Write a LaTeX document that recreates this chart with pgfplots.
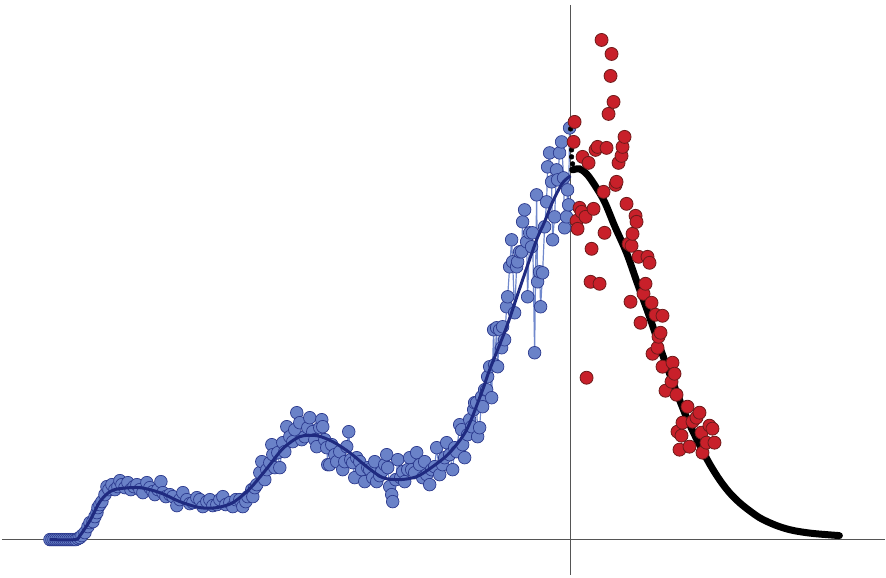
\documentclass[border=0pt]{standalone}
\usepackage{pgfplots}
\pgfplotsset{compat=1.18}
\definecolor{bluefill}{HTML}{6A82C8}
\definecolor{blueedge}{HTML}{2C3A8E}
\definecolor{blueline}{HTML}{7088CC}
\definecolor{bluecurve}{HTML}{1F2A80}
\definecolor{redfill}{HTML}{C8202A}
\definecolor{rededge}{HTML}{6E1A1A}
\definecolor{axisgray}{HTML}{555555}
\begin{document}
\begin{tikzpicture}
\begin{axis}[
  scale only axis, width=886pt, height=578pt,
  xmin=0, xmax=886, ymin=-38, ymax=540,
  hide axis, clip=false, clip marker paths=true,
]
\path (axis cs:0,-38) rectangle (axis cs:886,540);
% axes lines
\addplot[axisgray, line width=1.3pt, forget plot] coordinates {(2,0) (886,0)};
\addplot[axisgray, line width=1.3pt, forget plot] coordinates {(571,535) (571,-35)};
% blue observations
\addplot[blueline, line width=1.2pt, mark=*, mark size=6.3pt,
  mark options={fill=bluefill, draw=blueedge, line width=0.7pt, solid}] coordinates {
(50,0)(52,0)(54,0)(56,0)(58,0)(60,0)(62,0)(64,0)(66,0)(68,0)(70,0)(72,0)(74,0)(76,0)
(78,1)(80,2)(82,4)(85,7)(88,13)(90,17)(93,18)(95,23)(97,27)(98,32)(100,35)(102,38)
(105,45)(107,53)(109,50)(112,55)(115,50)(118,53)(120,59)(122,55)(125,52)(128,57)
(131,50)(134,53)(137,55)(140,50)(143,47)(147,57)(150,52)(153,48)(155,45)(158,50)
(161,58)(163,47)(166,43)(170,45)(173,43)(177,34)(180,40)(183,47)(187,40)(190,36)
(193,37)(197,42)(200,40)(203,33)(207,38)(210,40)(213,34)(217,35)(220,40)(223,43)
(226,35)(230,37)(233,33)(236,40)(240,40)(243,33)(246,38)(248,43)(252,50)(253,43)
(255,52)(257,55)(260,67)(262,78)(265,60)(267,70)(270,77)(272,95)(273,85)(275,72)
(278,87)(280,72)(283,97)(285,88)(287,113)(290,103)(293,98)(295,110)(297,127)(300,117)
(302,100)(305,103)(308,112)(310,122)(313,108)(315,100)(317,93)(320,112)(322,120)
(323,113)(325,100)(327,92)(328,75)(330,75)(332,95)(335,85)(337,78)(340,88)(343,70)
(345,78)(347,93)(349,108)(351,80)(353,77)(355,62)(357,82)(360,78)(362,70)(365,58)
(368,72)(370,70)(373,62)(375,78)(377,58)(380,64)(382,68)(385,75)(387,85)(388,72)
(390,53)(392,45)(393,38)(396,60)(398,80)(401,62)(403,68)(405,58)(408,70)(410,82)
(412,70)(415,67)(417,87)(420,75)(423,62)(425,78)(427,65)(430,55)(432,70)(435,73)
(437,92)(440,65)(443,75)(445,82)(447,97)(450,85)(453,70)(455,92)(457,88)(460,115)
(462,110)(463,95)(465,82)(468,105)(470,120)(472,113)(474,130)(475,137)(477,137)
(478,103)(480,112)(482,143)(483,133)(485,150)(487,150)(488,163)(490,173)(492,142)
(494,210)(495,175)(497,212)(498,173)(500,210)(502,192)(503,213)(505,200)(507,233)
(508,243)(510,273)(512,300)(513,278)(515,227)(517,273)(518,278)(520,288)(522,288)
(523,318)(525,330)(527,298)(528,243)(530,307)(532,293)(533,307)(535,187)(537,345)
(538,258)(540,268)(541,233)(543,267)(545,313)(547,338)(548,373)(550,387)(552,358)
(553,300)(555,323)(557,370)(558,360)(560,387)(562,398)(564,362)(565,312)(567,323)
(568,350)(569,335)(570,412)
};
% blue smooth fit
\addplot[bluecurve, line width=3pt, smooth, tension=0.5] coordinates {
(50,0)(75,0)(80,4)(90,19)(100,38)(110,48)(120,51)(140,52)(160,47)(180,38)(200,32)
(217,32)(233,37)(250,51)(267,71)(283,91)(300,103)(317,104)(333,98)(350,87)(367,73)
(383,62)(400,60)(417,63)(433,73)(450,87)(467,110)(483,150)(490,170)(507,213)(523,260)
(537,300)(545,318)(553,338)(563,357)(571,364)
};
% black forecast
\addplot[black, only marks, mark=*, mark size=2.4pt] coordinates {
(571,411)(572,390)(572,383)(573,376)
};
\addplot[black, line width=7pt, smooth, line cap=round, tension=0.55] coordinates {
(573,370)(580,371)(587,366)(595,355)(605,338)(615,314)(627,287)(638,256)
(650,223)(662,188)(675,153)(688,120)(700,95)(710,76)(720,60)(730,47)(740,37)
(750,29)(760,22)(770,17)(780,13)(790,10)(800,8)(815,6)(840,4)
};
% red observations
\addplot[only marks, mark=*, mark size=6.5pt,
  mark options={fill=redfill, draw=rededge, line width=0.8pt}] coordinates {
(575,418)(574,398)(577,319)(578,311)(580,332)(582,328)(583,383)(586,323)(587,162)
(589,377)(591,258)(592,291)(594,331)(596,390)(598,393)(600,256)(602,500)(604,348)
(605,307)(607,392)(609,426)(611,464)(612,486)(614,438)(616,355)(617,358)(619,377)
(622,384)(623,393)(625,403)(627,336)(629,296)(632,294)(631,238)(633,306)(636,324)
(637,318)(639,283)(641,217)(644,246)(646,256)(648,283)(650,277)(652,237)(653,186)
(656,225)(658,192)(659,203)(661,207)(663,224)(663,173)(666,149)(672,158)(673,177)
(675,166)(677,145)(678,108)(680,90)(682,104)(683,117)(688,133)(690,93)(693,118)
(697,122)(700,127)(702,107)(703,87)(707,97)(710,114)(713,111)(715,97)
};
\end{axis}
\end{tikzpicture}
\end{document}
